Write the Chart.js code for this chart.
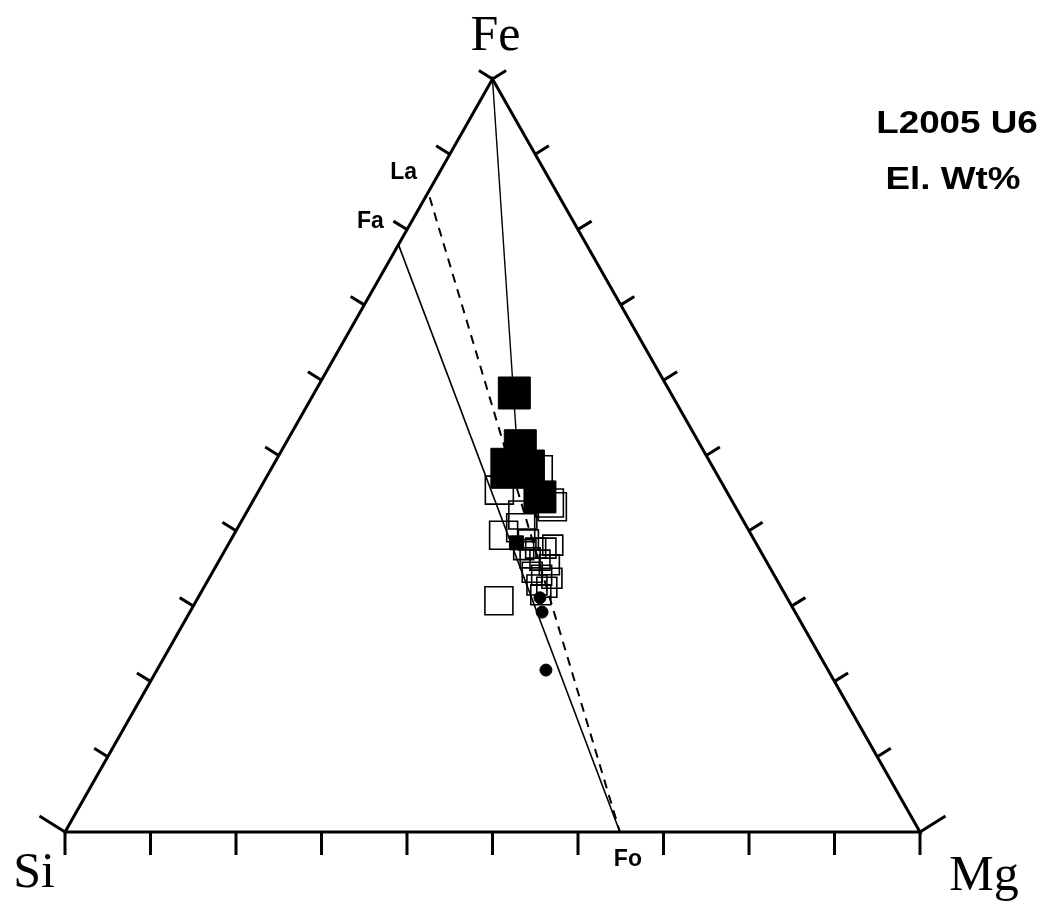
<!DOCTYPE html>
<html>
<head>
<meta charset="utf-8">
<title>L2005 U6 ternary</title>
<script src="https://cdn.jsdelivr.net/npm/chart.js@4.4.0/dist/chart.umd.min.js"></script>
<style>
  html, body { margin: 0; padding: 0; background: #fff; }
  #wrap { width: 1044px; height: 902px; position: relative; }
</style>
</head>
<body>
<div id="wrap"><canvas id="tern"></canvas></div>
<script>
/* ================================================================
   Si – Mg – Fe ternary (element wt%), sample L2005 U6
   ================================================================ */

/* ── Data: wt% Fe and Mg, Si = 100 - Fe - Mg ─────────────── */
var filledFe = [58.3, 51.3, 48.6, 44.5];
var filledMg = [23.4, 27.6, 29.9, 33.3];
var filledXLFe = [48.3];
var filledXLMg = [28.0];
var filledSmallFe = [38.4];
var filledSmallMg = [33.6];
var dotFe = [31.1, 29.2, 21.5];
var dotMg = [40.0, 41.2, 45.5];
var openFe = [48.1, 45.4, 43.7, 43.2, 42.1, 40.4, 39.4, 30.7];
var openMg = [31.3, 28.1, 34.8, 35.4, 32.5, 33.1, 31.6, 35.4];
var openSmallFe = [38.8, 38.1, 37.7, 37.7, 37.5, 36.4, 36.1, 35.5, 34.5, 34.1, 33.7, 32.8, 32.5, 31.5];
var openSmallMg = [34.8, 38.0, 36.2, 37.4, 34.9, 36.2, 37.5, 38.9, 37.4, 38.7, 40.1, 38.8, 40.1, 39.9];

/* reference tie lines (end members) */
var faLineFe = [78.0, 0];   var faLineMg = [0, 64.9];
var laLineFe = [84.3, 0];   var laLineMg = [0.5, 64.9];
var feLineFe = [100, 49.0]; var feLineMg = [0, 28.5];

var tickVals = [0, 10, 20, 30, 40, 50, 60, 70, 80, 90, 100];
var vertexNames = ['Fe', 'Si', 'Mg'];
var titleLines = ['L2005 U6', 'El. Wt%'];

(function () {
  'use strict';

  function toXY(fe, mg) { return { x: mg + fe / 2, y: fe }; }
  function pts(fe, mg) { return fe.map(function (f, i) { return toXY(f, mg[i]); }); }

  function squares(fe, mg, side, fill) {
    return {
      data: pts(fe, mg),
      pointStyle: 'rect',
      pointRadius: side / (2 * Math.SQRT1_2),
      backgroundColor: fill ? '#000' : 'rgba(0,0,0,0)',
      borderColor: '#000',
      borderWidth: fill ? 1 : 1.6,
      showLine: false
    };
  }
  function dots(fe, mg, r) {
    return {
      data: pts(fe, mg),
      pointStyle: 'circle',
      pointRadius: r,
      backgroundColor: '#000',
      borderColor: '#000',
      borderWidth: 1,
      showLine: false
    };
  }
  function line(fe, mg, width, dash) {
    return {
      data: pts(fe, mg),
      showLine: true,
      borderColor: '#000',
      borderWidth: width,
      borderDash: dash || [],
      pointRadius: 0,
      fill: false
    };
  }

  var edge = line([0, 0, 100, 0], [0, 100, 0, 0], 3);
  edge.borderJoinStyle = 'miter';

  /* ── Ticks, vertex names, labels ─────────────────────────── */
  var decor = {
    id: 'ternaryDecor',
    afterDatasetsDraw: function (chart) {
      var ctx = chart.ctx, xs = chart.scales.x, ys = chart.scales.y;
      function px(fe, mg) {
        var p = toXY(fe, mg);
        return [xs.getPixelForValue(p.x), ys.getPixelForValue(p.y)];
      }
      function seg(p, dx, dy) {
        ctx.beginPath(); ctx.moveTo(p[0], p[1]); ctx.lineTo(p[0] + dx, p[1] + dy); ctx.stroke();
      }
      function text(str, p, dx, dy, font, sx) {
        ctx.save();
        ctx.font = font;
        ctx.translate(p[0] + dx, p[1] + dy);
        ctx.scale(sx || 1, 1);
        ctx.fillText(str, 0, 0);
        ctx.restore();
      }

      ctx.save();
      ctx.strokeStyle = '#000';
      ctx.lineWidth = 3;
      tickVals.forEach(function (v) {
        var l = v === 0 ? 30 : 16;
        seg(px(0, v), 0, 23);
        seg(px(v, 0), -0.85 * l, -0.53 * l);
        seg(px(v, 100 - v), 0.85 * l, -0.53 * l);
      });

      ctx.fillStyle = '#000';
      ctx.textAlign = 'center';
      ctx.textBaseline = 'alphabetic';
      var serif = '50px "Liberation Serif", "Times New Roman", serif';
      text(vertexNames[0], px(100, 0), 3, -29, serif);
      text(vertexNames[1], px(0, 0), -31, 55, serif);
      text(vertexNames[2], px(0, 100), 64, 58, serif);

      ctx.textBaseline = 'middle';
      var lab = 'bold 23px "Liberation Sans", Arial, sans-serif';
      text('La', px(laLineFe[0], laLineMg[0]), -26, -25, lab);
      text('Fa', px(faLineFe[0], faLineMg[0]), -28, -23, lab);
      text('Fo', px(0, faLineMg[1]), 8, 28, lab);

      ctx.textBaseline = 'alphabetic';
      var tf = 'bold 32px "Liberation Sans", Arial, sans-serif';
      var ca = chart.chartArea;
      text(titleLines[0], [ca.right - 87, 133], 0, 0, tf, 1.15);
      text(titleLines[1], [ca.right - 91, 189], 0, 0, tf, 1.15);
      ctx.restore();
    }
  };

  new Chart(document.getElementById('tern'), {
    type: 'scatter',
    data: {
      datasets: [
        dots(dotFe, dotMg, 6),
        squares(filledSmallFe, filledSmallMg, 14, true),
        squares(filledFe, filledMg, 32, true),
        squares(filledXLFe, filledXLMg, 40, true),
        squares(openFe, openMg, 28, false),
        squares(openSmallFe, openSmallMg, 20, false),
        line(faLineFe, faLineMg, 1.6),
        line(laLineFe, laLineMg, 2, [9, 7]),
        line(feLineFe, feLineMg, 1.4),
        edge
      ]
    },
    options: {
      responsive: true,
      maintainAspectRatio: false,
      animation: false,
      events: [],
      layout: { padding: 0, autoPadding: false },
      plugins: { legend: { display: false }, tooltip: { enabled: false }, title: { display: false } },
      scales: {
        x: { type: 'linear', display: false, min: -7.602, max: 114.503 },
        y: { type: 'linear', display: false, min: -9.297, max: 110.491 }
      }
    },
    plugins: [decor]
  });
})();
</script>
</body>
</html>
